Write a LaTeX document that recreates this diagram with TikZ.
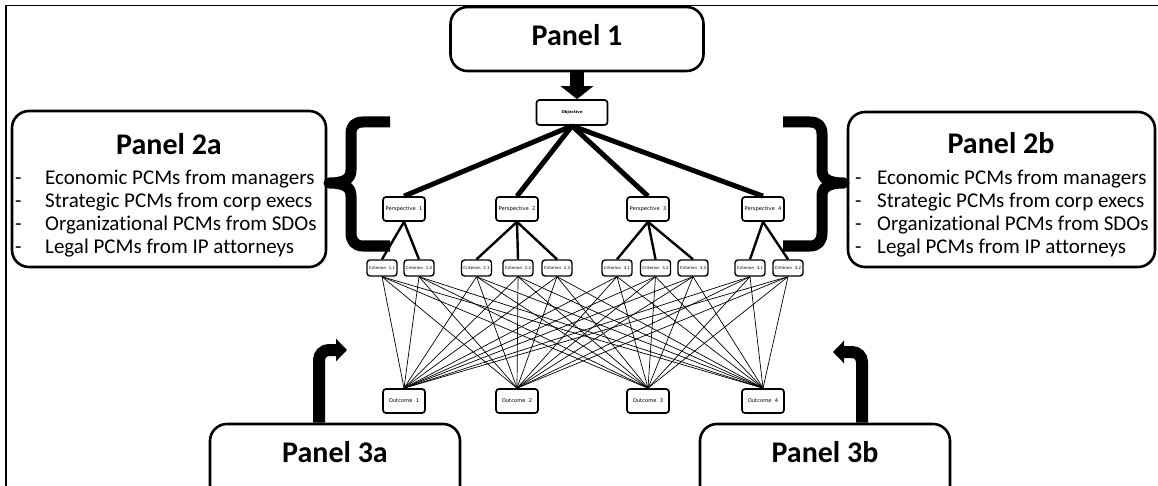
\documentclass[tikz,border=0pt]{standalone}
\usepackage{fontspec}
\setmainfont[Ligatures=NoCommon]{Carlito}
\newfontfamily\boxfont{DejaVu Sans}
\usetikzlibrary{positioning,arrows.meta,calc}

\newcommand{\pcmlines}[1]{%
	\makebox[#1][l]{-}Economic PCMs from managers\\
	\makebox[#1][l]{-}Strategic PCMs from corp execs\\
	\makebox[#1][l]{-}Organizational PCMs from SDOs\\
	\makebox[#1][l]{-}Legal PCMs from IP attorneys}

\begin{document}
\begin{tikzpicture}[x=1pt,y=-1pt,
	    panel/.style={draw, line width=2.6pt, rounded corners=17pt, inner sep=0pt},
	    paneltitle/.style={font=\bfseries\fontsize{30}{36}\selectfont, inner sep=0pt, anchor=base},
	    pcmlist/.style={font=\fontsize{21}{23}\selectfont, align=left, inner sep=0pt, anchor=west},
	    treebox/.style={draw, line width=1.7pt, rounded corners=3pt, inner sep=0pt, fill=white},
	    objbox/.style={treebox, minimum width=71pt, minimum height=25pt,
	    	font=\boxfont\bfseries\fontsize{3.9}{4.5}\selectfont},
	    perbox/.style={treebox, minimum width=42pt, minimum height=24pt,
	    	font=\boxfont\fontsize{5.2}{6}\selectfont},
	    critbox/.style={treebox, line width=1.4pt, minimum width=30pt, minimum height=16pt,
	    	font=\boxfont\fontsize{4}{5}\selectfont},
	    objedge/.style={line width=5pt},
	    peredge/.style={line width=2.4pt},
	    critedge/.style={line width=0.7pt},
	    bracepath/.style={line width=11pt, line join=round},
	    downarrow/.style={line width=14pt, -{Triangle[width=32pt,length=13pt]}},
	    bendarrow/.style={line width=12pt, rounded corners=10pt, -{Triangle[width=22pt,length=11pt]}},
	]

	\useasboundingbox (0,0) rectangle (1158,486);
	\clip (0,0) rectangle (1158,486);
	\draw[line width=1.5pt] (6,500) -- (6,5.5) -- (1170,5.5);

	% panels
	\node[panel, minimum width=253pt, minimum height=64pt] (p1) at (577,39) {};
	\node[paneltitle] (t1) at (577,46) {Panel 1};

	\node[panel, minimum width=314pt, minimum height=156pt] (p2a) at (169,189) {};
	\node[paneltitle] (t2a) at (169,155) {Panel 2a};
	\node[pcmlist] (l2a) at (15,214) {\pcmlines{30pt}};

	\node[panel, minimum width=307pt, minimum height=155pt] (p2b) at (1001.5,189.5) {};
	\node[paneltitle] (t2b) at (1001,154) {Panel 2b};
	\node[pcmlist] (l2b) at (855,214) {\pcmlines{22pt}};

	\node[panel, minimum width=250pt, minimum height=100pt] (p3a) at (335,474) {};
	\node[paneltitle] (t3a) at (335,462) {Panel 3a};
	\node[panel, minimum width=250pt, minimum height=100pt] (p3b) at (825,474) {};
	\node[paneltitle] (t3b) at (825,462) {Panel 3b};

	% hierarchy
	\node[objbox] (obj) at (572,112.5) {Objective};
	\foreach \i/\x in {1/404,2/517,3/648,4/763} {
		\node[perbox] (per\i) at (\x,209) {Perspective\ \ \i};
		\node[perbox] (out\i) at (\x,401) {Outcome\ \ \i};
	}
	\foreach \n/\x/\t in {11/382/1.1,12/419/1.2,21/476.5/2.1,22/518/2.2,23/557/2.3,
		31/617/3.1,32/655.5/3.2,33/693/3.3,41/750/4.1,42/788/4.2}
		\node[critbox] (cr\n) at (\x,268) {Criterion\ \ \t};

	\foreach \i in {1,...,4}
		\draw[objedge] (obj.south) -- (per\i.north);
	\foreach \p/\c in {1/11,1/12,2/21,2/22,2/23,3/31,3/32,3/33,4/41,4/42}
		\draw[peredge] (per\p.south) -- (cr\c.north);
	\foreach \c in {11,12,21,22,23,31,32,33,41,42}
		\foreach \o in {1,...,4}
			\draw[critedge] (cr\c.south) -- (out\o.north);

	% braces
	\draw[bracepath] (390,122) -- (363,122) .. controls (355,122) and (351,126) .. (351,134)
		-- (351,170) .. controls (351,178) and (346,183) .. (329,183)
		.. controls (346,183) and (351,188) .. (351,196)
		-- (351,233) .. controls (351,241) and (355,246) .. (363,246) -- (390,246);
	\draw[bracepath] (783,122) -- (810,122) .. controls (818,122) and (822,126) .. (822,134)
		-- (822,170) .. controls (822,178) and (827,183) .. (844,183)
		.. controls (827,183) and (822,188) .. (822,196)
		-- (822,233) .. controls (822,241) and (818,246) .. (810,246) -- (783,246);

	% arrows
	\draw[downarrow] (p1.south) -- (p1.south |- obj.north);
	\coordinate (a3a) at (347,350);
	\coordinate (a3b) at (833,352);
	\draw[bendarrow] ([xshift=-16]p3a.north) |- (a3a);
	\draw[bendarrow] ([xshift=37]p3b.north) |- (a3b);

\end{tikzpicture}
\end{document}
